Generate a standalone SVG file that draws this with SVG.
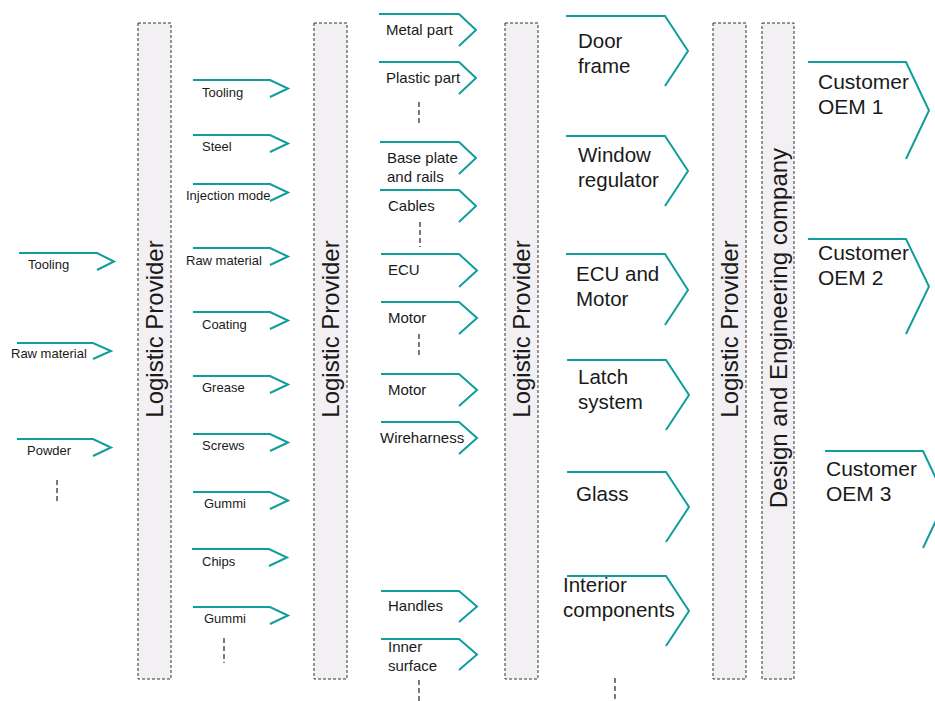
<svg xmlns="http://www.w3.org/2000/svg" width="935" height="701" viewBox="0 0 935 701">
  <style>
    .chev { fill: none; stroke: #0f9e9b; stroke-width: 2; stroke-linejoin: miter; }
    .lane { fill: #f2f0f3; stroke: #333333; stroke-width: 1; stroke-dasharray: 3 2; }
    .dots { stroke: #222222; stroke-width: 1.2; stroke-dasharray: 5 3; }
    text { font-family: "Liberation Sans", Arial, sans-serif; fill: #1a1a1a; }
    .s { font-size: 13px; }
    .m { font-size: 15px; }
    .l { font-size: 20.5px; }
    .xl { font-size: 21px; }
    .lane-t { font-size: 24px; text-anchor: middle; }
  </style>

  <!-- provider lanes -->
  <g id="lane-logistic-1"><rect class="lane" x="138" y="23" width="33" height="656"/>
    <text class="lane-t" x="154.5" y="337.5" transform="rotate(-90 154.5 329)">Logistic Provider</text></g>
  <g id="lane-logistic-2"><rect class="lane" x="314" y="23" width="33" height="656"/>
    <text class="lane-t" x="330.5" y="337.5" transform="rotate(-90 330.5 329)">Logistic Provider</text></g>
  <g id="lane-logistic-3"><rect class="lane" x="505" y="23" width="33" height="656"/>
    <text class="lane-t" x="521.5" y="337.5" transform="rotate(-90 521.5 329)">Logistic Provider</text></g>
  <g id="lane-logistic-4"><rect class="lane" x="713" y="23" width="33" height="656"/>
    <text class="lane-t" x="729.5" y="337.5" transform="rotate(-90 729.5 329)">Logistic Provider</text></g>
  <g id="lane-design"><rect class="lane" x="762" y="23" width="32" height="656"/>
    <text class="lane-t" x="778" y="336.5" transform="rotate(-90 778 328)">Design and Engineering company</text></g>

  <!-- raw inputs -->
  <g id="in-tooling"><path class="chev" d="M19 253H97L114 261.5L97 270"/><text class="s" x="28" y="269">Tooling</text></g>
  <g id="in-raw-material"><path class="chev" d="M17 343H93L111 351L93 359"/><text class="s" x="11" y="358">Raw material</text></g>
  <g id="in-powder"><path class="chev" d="M17 439H93L111 447.5L93 456"/><text class="s" x="27" y="455">Powder</text></g>

  <!-- tier 3 materials -->
  <g id="t3-tooling"><path class="chev" d="M193 80H270L288 88.5L270 97"/><text class="s" x="202" y="97">Tooling</text></g>
  <g id="t3-steel"><path class="chev" d="M193 135H270L288 143.5L270 152"/><text class="s" x="202" y="151">Steel</text></g>
  <g id="t3-injection"><path class="chev" d="M193 184H270L288 192.5L270 201"/><text class="s" x="186" y="200">Injection mode</text></g>
  <g id="t3-raw-material"><path class="chev" d="M193 248H270L288 256.5L270 265"/><text class="s" x="186" y="265">Raw material</text></g>
  <g id="t3-coating"><path class="chev" d="M193 312H270L288 320.5L270 329"/><text class="s" x="202" y="329">Coating</text></g>
  <g id="t3-grease"><path class="chev" d="M193 376H270L288 384.5L270 393"/><text class="s" x="202" y="392">Grease</text></g>
  <g id="t3-screws"><path class="chev" d="M193 434H270L288 442.5L270 451"/><text class="s" x="202" y="450">Screws</text></g>
  <g id="t3-gummi-1"><path class="chev" d="M193 492H270L288 500.5L270 509"/><text class="s" x="204" y="508">Gummi</text></g>
  <g id="t3-chips"><path class="chev" d="M192 549H269L287 557.5L269 566"/><text class="s" x="202" y="566">Chips</text></g>
  <g id="t3-gummi-2"><path class="chev" d="M193 607H270L288 615.5L270 624"/><text class="s" x="204" y="623">Gummi</text></g>

  <!-- tier 2 parts -->
  <g id="t2-metal"><path class="chev" d="M379 14H459L476 30L459 46"/><text class="m" x="386" y="35">Metal part</text></g>
  <g id="t2-plastic"><path class="chev" d="M379 62H459L476 78L459 94"/><text class="m" x="386" y="83">Plastic part</text></g>
  <g id="t2-base-plate"><path class="chev" d="M380 142H459L476 158L459 174"/><text class="m" x="387" y="163">Base plate</text><text class="m" x="387" y="182">and rails</text></g>
  <g id="t2-cables"><path class="chev" d="M380 190H459L476 206L459 222"/><text class="m" x="388" y="211">Cables</text></g>
  <g id="t2-ecu"><path class="chev" d="M381 254H459L477 270.5L459 287"/><text class="m" x="388" y="275">ECU</text></g>
  <g id="t2-motor-1"><path class="chev" d="M381 302H459L477 318L459 334"/><text class="m" x="388" y="323">Motor</text></g>
  <g id="t2-motor-2"><path class="chev" d="M381 374H459L477 390L459 406"/><text class="m" x="388" y="395">Motor</text></g>
  <g id="t2-wireharness"><path class="chev" d="M381 422H459L477 438L459 454"/><text class="m" x="380" y="443">Wireharness</text></g>
  <g id="t2-handles"><path class="chev" d="M381 591H459L477 606.5L459 622"/><text class="m" x="388" y="611">Handles</text></g>
  <g id="t2-inner-surface"><path class="chev" d="M381 639H459L477 654.5L459 670"/><text class="m" x="388" y="652">Inner</text><text class="m" x="388" y="671">surface</text></g>

  <!-- tier 1 modules -->
  <g id="t1-door-frame"><path class="chev" d="M566 16H665L688 51L665 86"/><text class="l" x="578" y="48">Door</text><text class="l" x="578" y="73">frame</text></g>
  <g id="t1-window-regulator"><path class="chev" d="M566 136H665L688 171L665 206"/><text class="l" x="578" y="162">Window</text><text class="l" x="578" y="187">regulator</text></g>
  <g id="t1-ecu-motor"><path class="chev" d="M566 254H665L688 290L665 325"/><text class="l" x="576" y="281">ECU and</text><text class="l" x="576" y="306">Motor</text></g>
  <g id="t1-latch"><path class="chev" d="M567 360H666L689 395L666 430"/><text class="l" x="578" y="384">Latch</text><text class="l" x="578" y="409">system</text></g>
  <g id="t1-glass"><path class="chev" d="M567 472H666L689 507L666 542"/><text class="l" x="576" y="501">Glass</text></g>
  <g id="t1-interior"><path class="chev" d="M567 576H666L689 611L666 646"/><text class="l" x="563" y="592">Interior</text><text class="l" x="563" y="617">components</text></g>

  <!-- customers -->
  <g id="oem-1"><path class="chev" d="M808 62H906L929 110.5L906 159"/><text class="xl" x="818" y="89">Customer</text><text class="xl" x="818" y="114">OEM 1</text></g>
  <g id="oem-2"><path class="chev" d="M808 239H906L929 286.5L906 334"/><text class="xl" x="818" y="260">Customer</text><text class="xl" x="818" y="285">OEM 2</text></g>
  <g id="oem-3"><path class="chev" d="M825 451H923L946 499.5L923 548"/><text class="xl" x="826" y="476">Customer</text><text class="xl" x="826" y="501">OEM 3</text></g>

  <!-- continuation marks -->
  <g id="connectors">
    <line class="dots" x1="57" y1="480" x2="57" y2="502"/>
    <line class="dots" x1="224" y1="638" x2="224" y2="663"/>
    <line class="dots" x1="419" y1="102" x2="419" y2="126"/>
    <line class="dots" x1="420" y1="222" x2="420" y2="247"/>
    <line class="dots" x1="419" y1="334" x2="419" y2="358"/>
    <line class="dots" x1="419" y1="680" x2="419" y2="701"/>
    <line class="dots" x1="615" y1="678" x2="615" y2="701"/>
  </g>
</svg>
